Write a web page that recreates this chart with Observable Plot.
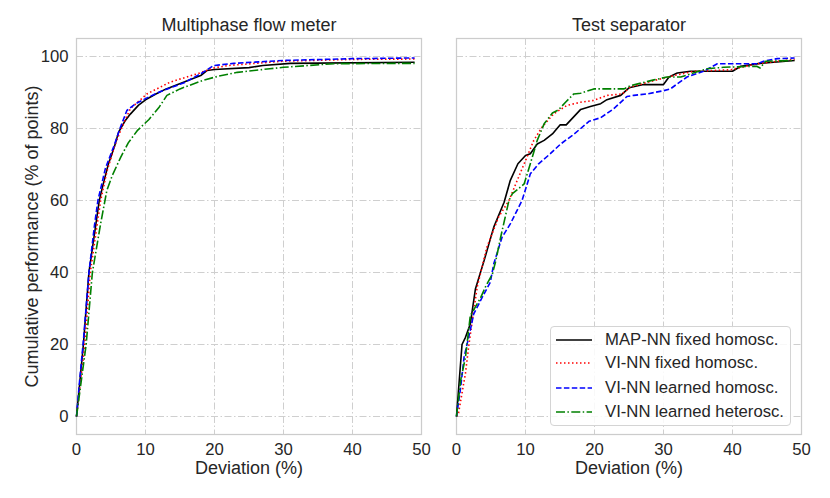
<!DOCTYPE html>
<html>
<head>
<meta charset="utf-8">
<script src="https://cdn.jsdelivr.net/npm/d3@7"></script>
<script src="https://cdn.jsdelivr.net/npm/@observablehq/plot@0.6"></script>
<style>
  html, body { margin: 0; padding: 0; background: #fff; }
  #wrap { position: relative; width: 830px; height: 498px; font-family: "Liberation Sans", Arial, sans-serif; color: #262626; }
  #left, #right { position: absolute; top: 0; }
  #left { left: 0; }
  #right { left: 440px; }
  #legend { position: absolute; left: 550px; top: 326px; width: 241px; height: 100px; box-sizing: border-box;
    border: 1px solid #d4d4d4; border-radius: 4px; background: rgba(255,255,255,0.85); }
  .row { position: absolute; left: 0; height: 24px; display: flex; align-items: center; font-size: 16.7px; white-space: nowrap; }
  .row svg { margin-left: 5px; margin-right: 13px; }
</style>
</head>
<body>
<div id="wrap">
  <div id="left"></div>
  <div id="right"></div>
  <div id="legend"></div>
</div>
<script>
// ---- data ----
const panelTitles = ["Multiphase flow meter", "Test separator"];
const seriesNames = ["MAP-NN fixed homosc.", "VI-NN fixed homosc.", "VI-NN learned homosc.", "VI-NN learned heterosc."];
const seriesColors = ["#000000", "#ff0000", "#0000ff", "#008000"];
const seriesDash = [null, "1.5,2.5", "5.5,2.4", "9,2.4,1.5,2.4"];
const xTicks = [0, 10, 20, 30, 40, 50];
const yTicks = [0, 20, 40, 60, 80, 100];
const xLabel = "Deviation (%)";
const yLabel = "Cumulative performance (% of points)";

// Multiphase flow meter
const mpfmMap = [[0,0],[0.5,10],[1,20],[1.8,40],[2.7,52],[3.3,60],[3.8,64],[4.6,70],[5.5,75],[6.1,79],[7,82],[7.8,84],[9,86.5],[10.2,88.2],[11.5,89.6],[13,91],[15.6,92.9],[18,94.7],[18.9,96.1],[20,96.4],[25,96.9],[27,97.5],[31,98.1],[49,98.4]];
const mpfmViFixed = [[0,0],[0.6,10],[1.2,20],[2,40],[2.9,52],[3.5,60],[4.4,68],[5.5,75],[6.5,80],[7.8,85.5],[10.2,89.6],[13.6,92.9],[17.5,95.2],[19.9,96.8],[22,97.5],[30,98.7],[40,99.2],[49,99.3]];
const mpfmViLearned = [[0,0],[0.5,11],[1,21],[1.8,40],[2.6,53],[3.1,60],[4.2,69],[5.4,75],[6.3,80],[7.3,85],[8.5,86.8],[10.2,88.5],[12.2,90.3],[15.6,92.7],[18,95.2],[19.9,97.5],[22.8,98.1],[30,98.9],[40,99.4],[49,99.6]];
const mpfmViHetero = [[0,0],[0.7,10],[1.4,20],[2.3,40],[3.5,53.6],[4.4,62.8],[5.2,67],[6.4,72],[7.5,76],[8.8,79.4],[10.5,82.5],[12,86],[13.1,89.2],[15,91],[18.2,93.3],[20.5,94.5],[23.3,95.6],[28,96.6],[30,97],[37.3,98],[49,98.1]];

// Test separator
const tsMap = [[0,0],[0.8,20],[1.3,22],[2,25.7],[2.75,35.5],[4,43.3],[5.4,52.6],[6.9,59.5],[7.8,65.6],[8.9,70.2],[10,72.5],[10.7,73],[11.7,75.7],[12.7,76.7],[13.9,78.5],[15,81],[15.9,81],[18,85.3],[19.4,86.1],[20.9,86.9],[21.8,88],[23.8,89.2],[25,91.3],[27.1,92.2],[30,92.2],[30.8,94.3],[32,95.4],[33.9,95.9],[40,95.9],[41.2,97.3],[44,98.1],[49,98.9]];
const tsViFixed = [[0,0],[0.3,1],[1.3,12],[1.8,20],[2.5,29.4],[3,36],[4.4,47],[6.1,55.4],[7.6,60],[9,66.5],[10.2,72],[11.2,76.7],[12.4,80.4],[14.1,84.1],[16,86.4],[18,87.3],[19.9,87.8],[21.8,89.2],[24,89.6],[25.2,91.5],[28.6,93.3],[31.5,94.7],[34.4,95.9],[39.7,96.3],[43.6,98],[49,99.2]];
const tsViLearned = [[0,0],[0.6,8],[1.1,16.5],[2,24],[2.5,28.5],[3.7,33],[4.9,37.3],[5.4,42.4],[6.6,49.8],[7.8,53.5],[9.5,60],[10.7,67.4],[11.9,70.2],[13.6,73],[15.1,75.7],[16.8,78.1],[18,80],[19.2,82],[20.9,83],[22.8,85.5],[24.7,88.9],[25.7,89.2],[27.6,89.6],[30,90.5],[31,91],[32,92.4],[33.4,94.3],[35.8,95.9],[37.8,98],[43.6,98],[44.5,98.7],[46.5,99.4],[49,99.6]];
const tsViHetero = [[0,0],[0.6,10],[1.3,16.5],[2,28],[3.5,33],[4.2,36],[5.2,39.6],[5.7,43.3],[6.4,49.8],[7.6,60],[8.1,61.9],[9.8,64.6],[10.7,70.2],[11.7,76.7],[12.7,81.3],[13.9,84.3],[14.8,85.2],[15.8,87.3],[17,89.6],[18,89.8],[19.9,91],[24.3,91],[25.2,91.9],[28.6,93.5],[30.5,94.3],[32.5,94.3],[36.3,96.6],[38.7,97],[43.5,97.3],[44,96.8],[44.8,98.7],[49,98.9]];

const panels = [
  [mpfmMap, mpfmViFixed, mpfmViLearned, mpfmViHetero],
  [tsMap, tsViFixed, tsViLearned, tsViHetero]
];

const font = '"Liberation Sans", Arial, sans-serif';
const gridStyle = {stroke: "#cfcfcf", strokeOpacity: 1, strokeWidth: 1, strokeDasharray: "7,2.5,1.5,2.5"};

function makePanel(i) {
  const isLeft = i === 0;
  const width = isLeft ? 440 : 390;
  const marks = [
    Plot.gridX(xTicks, gridStyle),
    Plot.gridY(yTicks, gridStyle),
    Plot.frame({stroke: "#cccccc", strokeWidth: 1.25}),
    Plot.axisX(xTicks, {tickSize: 0, tickPadding: 9, label: null, fontSize: 16.7}),
    Plot.axisY(yTicks, {tickSize: 0, tickPadding: 8, label: null, fontSize: 16.7, ...(isLeft ? {} : {tickFormat: () => ""})}),
  ];
  panels[i].forEach((s, k) => {
    marks.push(Plot.line(s, {x: d => d[0], y: d => d[1], stroke: seriesColors[k], strokeWidth: 1.6,
      strokeDasharray: seriesDash[k] || undefined, strokeLinejoin: "round", strokeLinecap: "butt"}));
  });
  marks.push(Plot.text([panelTitles[i]], {frameAnchor: "top", lineAnchor: "middle", textAnchor: "middle", dy: -13, fontSize: 18, fill: "#262626"}));
  marks.push(Plot.text([xLabel], {frameAnchor: "bottom", lineAnchor: "middle", textAnchor: "middle", dy: 34, fontSize: 18, fill: "#262626"}));
  if (isLeft) marks.push(Plot.text([yLabel], {frameAnchor: "left", lineAnchor: "middle", textAnchor: "middle", dx: -44, rotate: -90, fontSize: 18, fill: "#262626"}));
  return Plot.plot({
    width, height: 498,
    marginLeft: isLeft ? 76 : 16,
    marginRight: isLeft ? 19 : 29,
    marginTop: 38, marginBottom: 64,
    style: {fontFamily: font, color: "#262626", background: "transparent", overflow: "visible"},
    x: {domain: [0, 50]},
    y: {domain: [-5, 105]},
    marks
  });
}

document.getElementById("left").appendChild(makePanel(0));
document.getElementById("right").appendChild(makePanel(1));

// legend
const legend = document.getElementById("legend");
const rowTops = [1, 24, 49, 73];
seriesNames.forEach((name, k) => {
  const row = document.createElement("div");
  row.className = "row";
  row.style.top = rowTops[k] + "px";
  const dash = seriesDash[k] ? `stroke-dasharray="${seriesDash[k]}"` : "";
  row.innerHTML = `<svg width="36" height="10"><line x1="0" y1="5" x2="36" y2="5" stroke="${seriesColors[k]}" stroke-width="1.5" ${dash}/></svg><span>${name}</span>`;
  legend.appendChild(row);
});
</script>
</body>
</html>
